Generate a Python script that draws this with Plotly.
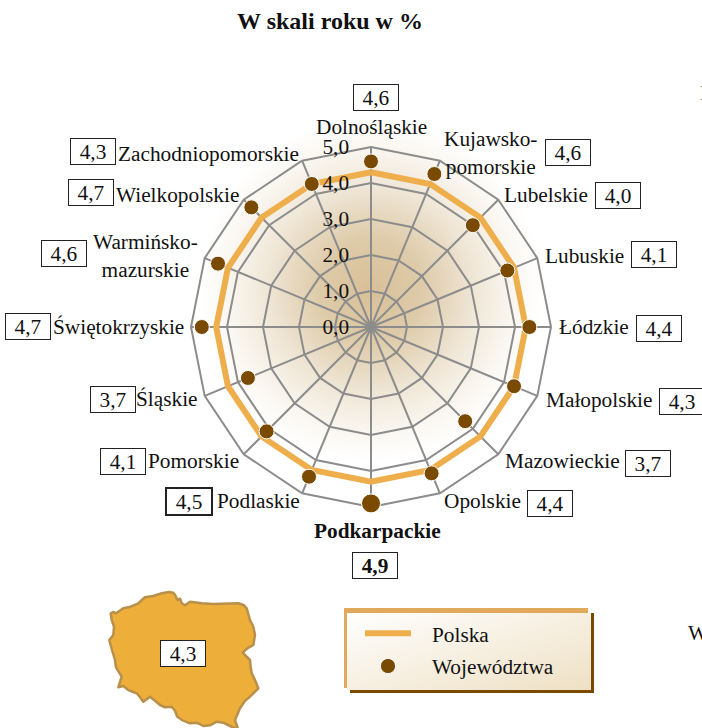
import base64
import plotly.graph_objects as go

W, H = 702, 728
FONT = "Liberation Serif"

categories = ["Dolnośląskie", "Kujawsko-pomorskie", "Lubelskie", "Lubuskie", "Łódzkie", "Małopolskie",
              "Mazowieckie", "Opolskie", "Podkarpackie", "Podlaskie", "Pomorskie", "Śląskie",
              "Świętokrzyskie", "Warmińsko-mazurskie", "Wielkopolskie", "Zachodniopomorskie"]
wojewodztwa = [4.6, 4.6, 4.0, 4.1, 4.4, 4.3, 3.7, 4.4, 4.9, 4.5, 4.1, 3.7, 4.7, 4.6, 4.7, 4.3]
polska_value = 4.3
polska = [polska_value] * len(categories)
radial_ticks = [0, 1, 2, 3, 4, 5]
radial_labels = ["0,0", "1,0", "2,0", "3,0", "4,0", "5,0"]

# layout only: label text, label centre (px), value box centre (px)
label_text = ["Dolnośląskie", "Kujawsko-<br>pomorskie", "Lubelskie", "Lubuskie", "Łódzkie", "Małopolskie",
              "Mazowieckie", "Opolskie", "<b>Podkarpackie</b>", "Podlaskie", "Pomorskie", "Śląskie",
              "Świętokrzyskie", "Warmińsko-<br>mazurskie", "Wielkopolskie", "Zachodniopomorskie"]
label_pos = [(371, 127), (490, 153), (546, 195), (584, 256), (594, 327), (599, 400),
             (562, 461), (482, 501), (377, 531), (258, 501), (193, 461), (167, 399),
             (118, 327), (145, 256), (177, 195), (208, 154)]
box_pos = [(376, 98), (568, 152), (618, 196), (654, 255), (659, 329), (682, 401),
           (648, 463), (550, 503), (375, 565), (189, 501), (123, 461), (113, 399),
           (28, 326), (64, 253), (91, 193), (93, 151)]

CX, CY, R = 371, 327, 180
poland = [(62,100),(70,96),(78,100),(100,85),(122,80),(145,70),(165,52),(190,48),(215,40),(238,36),(250,38),(256,46),(262,60),
          (270,56),(275,70),(285,76),(300,65),(335,70),(370,72),(445,70),(462,76),(470,85),(480,120),(490,140),(495,165),(490,195),
          (472,205),(458,218),(480,240),(482,262),(485,280),(495,300),(505,325),(480,350),(465,362),(450,385),(435,420),(445,450),
          (420,438),(400,428),(380,425),(360,436),(340,438),(320,428),(300,430),(280,422),(262,410),(255,392),(245,380),(225,382),
          (210,375),(195,362),(180,350),(170,358),(160,365),(150,352),(140,340),(115,330),(100,318),(85,322),(95,290),(78,262),
          (75,240),(66,210),(58,180),(70,165),(72,140),(65,120)]
poland_d = "M" + "L".join(f"{90 + x / 3:.1f},{580 + y / 3:.1f}" for x, y in poland) + "Z"

svg = f'''<svg xmlns="http://www.w3.org/2000/svg" width="{W}" height="{H}" viewBox="0 0 {W} {H}">
<defs>
<radialGradient id="g" gradientUnits="userSpaceOnUse" cx="{CX}" cy="290" r="172">
<stop offset="0" stop-color="#D8C098"/><stop offset="0.3" stop-color="#DECBA9"/>
<stop offset="0.6" stop-color="#EFE6D6"/><stop offset="0.85" stop-color="#FBF8F3"/><stop offset="1" stop-color="#FFFFFF"/>
</radialGradient>
<linearGradient id="l" x1="0" y1="0" x2="1" y2="1">
<stop offset="0" stop-color="#FFFFFF"/><stop offset="1" stop-color="#EEE0C4"/>
</linearGradient>
</defs>
<circle cx="{CX}" cy="290" r="172" fill="url(#g)"/>
<rect x="344" y="608" width="244" height="80" fill="#E0A95C"/>
<rect x="350" y="613" width="244" height="80" fill="#7A4A00"/>
<rect x="347" y="613" width="244" height="77" fill="url(#l)"/>
<path d="{poland_d}" fill="#EEAE3A" stroke="#B9904A" stroke-width="2.5" stroke-linejoin="round"/>
</svg>'''
bg = "data:image/svg+xml;base64," + base64.b64encode(svg.encode()).decode()

fig = go.Figure()
fig.add_trace(go.Scatterpolar(r=polska + polska[:1], theta=categories + categories[:1], mode="lines",
                              name="\u00a0\u00a0\u00a0Polska", legendgroup="a",
                              line=dict(color="#EFAE4C", width=6), hoverinfo="skip"))
fig.add_trace(go.Scatterpolar(r=wojewodztwa, theta=categories, mode="markers",
                              name="\u00a0\u00a0\u00a0Województwa", legendgroup="b",
                              marker=dict(color="#7A4A00", opacity=1,
                                          size=[19 if v == max(wojewodztwa) else 15 for v in wojewodztwa])))


def px(x):
    return x / W


def py(y):
    return 1 - y / H


FS = 21.3
ann = []
for text, (lx, ly), (bx, by), v in zip(label_text, label_pos, box_pos, wojewodztwa):
    ann.append(dict(x=px(lx), y=py(ly), text=text, showarrow=False, xref="paper", yref="paper",
                    font=dict(family=FONT, size=FS, color="#111111"), align="center",
                    xanchor="center", yanchor="middle"))
    s = f"{v:.1f}".replace(".", ",")
    bold = text.startswith("<b>")
    thick = text == "Podlaskie"
    ann.append(dict(x=px(bx), y=py(by), text=f"<b>{s}</b>" if bold else s, showarrow=False,
                    xref="paper", yref="paper", xanchor="center", yanchor="middle",
                    font=dict(family=FONT, size=FS, color="#111111"), bgcolor="#FFFFFF",
                    bordercolor="#222222", borderwidth=2 if thick else 1, borderpad=0,
                    width=44, height=25, align="center", valign="middle"))
ann.append(dict(x=px(183), y=py(653), text=f"{polska_value:.1f}".replace(".", ","), showarrow=False,
                xref="paper", yref="paper", xanchor="center", yanchor="middle",
                font=dict(family=FONT, size=FS, color="#111111"), bgcolor="#FFFFFF",
                bordercolor="#222222", borderwidth=1, borderpad=0, width=44, height=25,
                align="center", valign="middle"))
for t, x, y in [("I", 698, 93), ("W", 686, 633)]:
    ann.append(dict(x=px(x), y=py(y), text=t, showarrow=False, xref="paper", yref="paper",
                    xanchor="left", yanchor="middle", font=dict(family=FONT, size=FS, color="#111111")))

GRID = "#8C8C8C"
fig.update_layout(
    width=W, height=H, autosize=False, margin=dict(l=0, r=0, t=0, b=0),
    paper_bgcolor="#FFFFFF", plot_bgcolor="rgba(0,0,0,0)",
    font=dict(family=FONT, size=FS, color="#111111"),
    title=dict(text="<b>W skali roku w %</b>", x=330 / W, xanchor="center", y=py(21), yanchor="middle",
               font=dict(family=FONT, size=24, color="#111111")),
    images=[dict(source=bg, xref="paper", yref="paper", x=0, y=1, sizex=1, sizey=1,
                 xanchor="left", yanchor="top", sizing="stretch", layer="below")],
    polar=dict(
        domain=dict(x=[px(CX - R), px(CX + R)], y=[py(CY + R), py(CY - R)]),
        bgcolor="rgba(0,0,0,0)", gridshape="linear",
        radialaxis=dict(range=[0, 5], angle=90, tickangle=90, tickvals=radial_ticks, ticktext=radial_labels,
                        tickfont=dict(family=FONT, size=FS, color="#111111"), ticks="outside", ticklen=14,
                        tickcolor="rgba(0,0,0,0)", side="counterclockwise",
                        gridcolor=GRID, gridwidth=2, showline=False, layer="above traces"),
        angularaxis=dict(type="category", categoryorder="array", categoryarray=categories, direction="clockwise",
                         rotation=90, showticklabels=False, ticks="", gridcolor=GRID, gridwidth=2,
                         linecolor=GRID, linewidth=2, layer="below traces"),
    ),
    showlegend=True,
    legend=dict(x=px(360), y=py(613), xanchor="left", yanchor="top", bgcolor="rgba(0,0,0,0)",
                itemwidth=46, tracegroupgap=2, traceorder="grouped", itemclick=False, itemdoubleclick=False,
                font=dict(family=FONT, size=FS, color="#111111")),
    annotations=ann,
)
fig.write_html("out.html", post_script="document.body.style.margin='0';document.body.style.overflow='hidden';",
               config={"displayModeBar": False})
